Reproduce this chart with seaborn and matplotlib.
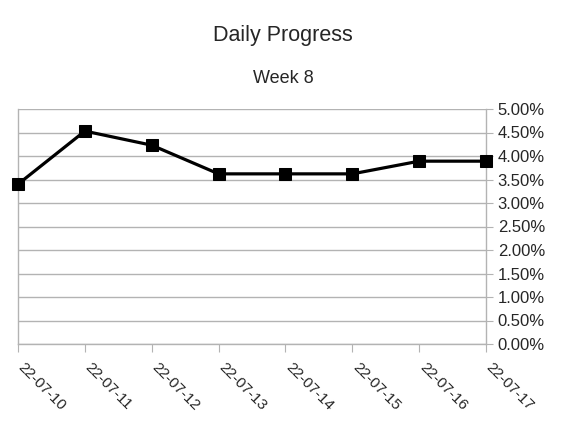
import pandas as pd
import matplotlib
matplotlib.use("Agg")
import matplotlib.pyplot as plt
import matplotlib.transforms as mtransforms
import seaborn as sns
from matplotlib.ticker import PercentFormatter

# Data
dates = ["22-07-10", "22-07-11", "22-07-12", "22-07-13",
         "22-07-14", "22-07-15", "22-07-16", "22-07-17"]
progress = [3.40, 4.53, 4.23, 3.62, 3.62, 3.62, 3.89, 3.89]

df = pd.DataFrame({"date": dates, "progress": progress})

sns.set_style("white")
plt.rcParams['font.family'] = ['Liberation Sans', 'DejaVu Sans']

fig = plt.figure(figsize=(5.67, 4.26), dpi=100)
ax = fig.add_axes([18/567, 1 - 344/426, (486 - 18)/567, (344 - 109)/426])

sns.lineplot(data=df, x="date", y="progress", ax=ax, color="black",
             linewidth=2.3, marker="s", markersize=9, markeredgecolor="black",
             clip_on=False, zorder=5)

ax.set_xlim(0, len(dates) - 1)
ax.set_ylim(0, 5)
ax.set_yticks([i * 0.5 for i in range(11)])
ax.yaxis.set_major_formatter(PercentFormatter(decimals=2))
ax.yaxis.tick_right()
ax.grid(axis="y", color="#b3b3b3", linewidth=1)
ax.set_axisbelow(True)

ax.spines["top"].set_visible(False)
for side in ["left", "right", "bottom"]:
    ax.spines[side].set_color("#b3b3b3")
    ax.spines[side].set_linewidth(1)

ax.tick_params(axis="y", which="both", right=True, left=False, length=5,
               color="#b3b3b3", labelsize=12, pad=3.5)
ax.tick_params(axis="x", bottom=True, length=6, color="#b3b3b3",
               labelsize=11, pad=3)

# rotated date labels, nudged so they start just under each tick
shift = mtransforms.ScaledTranslation(7.5/100, -3.5/100, fig.dpi_scale_trans)
for lbl in ax.get_xticklabels():
    lbl.set_rotation(-45)
    lbl.set_ha("left")
    lbl.set_va("top")
    lbl.set_rotation_mode("anchor")
    lbl.set_transform(lbl.get_transform() + shift)

ax.set_xlabel("")
ax.set_ylabel("")

fig.text(283/567, 1 - 41/426, "Daily Progress", ha="center", va="baseline", fontsize=15.5)
fig.text(283/567, 1 - 83/426, "Week 8", ha="center", va="baseline", fontsize=13)

fig.savefig("out.png", dpi=100)
